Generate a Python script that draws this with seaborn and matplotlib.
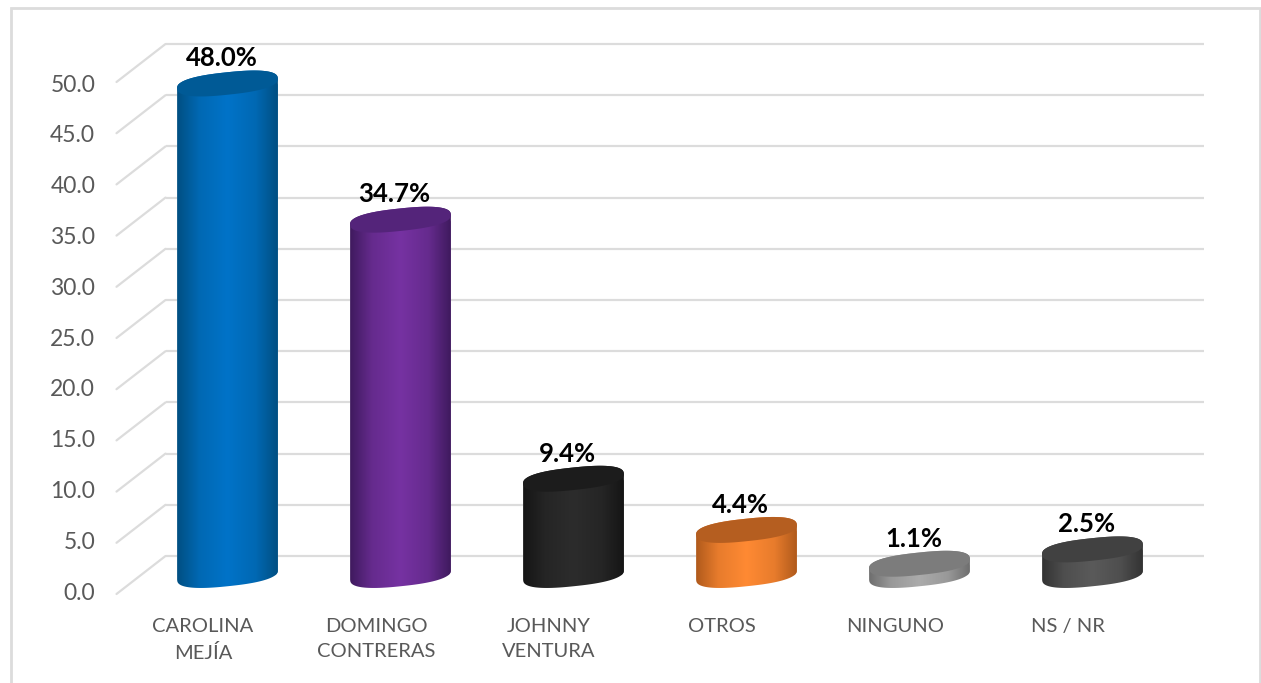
import matplotlib
matplotlib.use("Agg")
import matplotlib.pyplot as plt
import numpy as np
import seaborn as sns
from matplotlib.colors import LinearSegmentedColormap, to_rgb
from matplotlib.patches import Polygon, Rectangle
from matplotlib.path import Path
from matplotlib.transforms import Affine2D, IdentityTransform

categories = ["CAROLINA\nMEJÍA", "DOMINGO\nCONTRERAS", "JOHNNY\nVENTURA", "OTROS", "NINGUNO", "NS / NR"]
values = [48.0, 34.7, 9.4, 4.4, 1.1, 2.5]
value_labels = ["48.0%", "34.7%", "9.4%", "4.4%", "1.1%", "2.5%"]
y_ticks = [0, 5, 10, 15, 20, 25, 30, 35, 40, 45, 50]

# cylinder colours: centre of body, edge of body, top cap
body_colors = ["#0073C8", "#7632A2", "#2C2C2C", "#FF8A33", "#ABABAB", "#5A5A5A"]
edge_colors = ["#004F82", "#3F1A5E", "#151515", "#B05A1C", "#6E6E6E", "#333333"]
cap_colors = ["#005A96", "#54247A", "#1C1C1C", "#B55E20", "#7C7C7C", "#414141"]

GRID = "#DCDCDC"
W, H = 1261, 683
A, B, TILT = 50.6, 11.2, np.deg2rad(6)
ROUND = 2.5  # slightly squarer than a true ellipse, like the office 3D cylinder


def set_style():
    sns.set_theme(style="white")
    plt.rcParams["font.family"] = ["Lato", "DejaVu Sans"]


def ellipse_points(cx, cy, t):
    # tilted rounded ellipse in display pixels, rising towards the right
    c = np.sign(np.cos(t)) * np.abs(np.cos(t)) ** (2 / ROUND)
    s = np.sign(np.sin(t)) * np.abs(np.sin(t)) ** (2 / ROUND)
    x = cx + A * c * np.cos(TILT) - B * s * np.sin(TILT)
    y = cy + A * c * np.sin(TILT) + B * s * np.cos(TILT)
    return np.column_stack([x, y])


def silhouette(cx, y_low, y_high):
    # outline of the cylinder: upper half of the top cap, lower half of the base
    t = np.linspace(0, 2 * np.pi, 720, endpoint=False)
    probe = ellipse_points(0, 0, t)
    t0 = t[np.argmax(probe[:, 0])]
    top = ellipse_points(cx, y_high, np.linspace(t0, t0 + np.pi, 120))
    low = ellipse_points(cx, y_low, np.linspace(t0 + np.pi, t0 + 2 * np.pi, 120))
    return np.vstack([top, low])


def draw_cylinders(fig, ax):
    bars = sorted(ax.patches, key=lambda p: p.get_x())
    for i, bar in enumerate(bars):
        left, right = bar.get_x(), bar.get_x() + bar.get_width()
        mid = (left + right) / 2
        cx, y_high = ax.transData.transform((mid, bar.get_height()))
        _, y_low = ax.transData.transform((mid, 0))
        outline = Path(silhouette(cx, y_low, y_high), closed=True)
        bar.set_clip_box(None)
        bar.set_clip_path(outline, IdentityTransform())
        bar.set_zorder(2)

        edge, body = np.array(to_rgb(edge_colors[i])), np.array(to_rgb(body_colors[i]))
        cmap = LinearSegmentedColormap.from_list(
            f"cyl{i}",
            [(0, edge), (0.22, edge * 0.3 + body * 0.7), (0.5, body),
             (0.78, edge * 0.3 + body * 0.7), (1, edge)],
        )
        img = ax.imshow(
            np.linspace(0, 1, 256).reshape(1, -1), cmap=cmap, aspect="auto",
            extent=(left, right, -3, bar.get_height() + 3), zorder=3,
        )
        # images fall back to the axes box unless given their own clip box
        img.set_clip_box(fig.bbox)
        img.set_clip_path(outline, IdentityTransform())

        t = np.linspace(0, 2 * np.pi, 240)
        ax.add_patch(Polygon(
            ellipse_points(cx, y_high, t), closed=True, facecolor=cap_colors[i],
            edgecolor="none", transform=IdentityTransform(), zorder=4, clip_on=False,
        ))


def draw_walls(ax):
    back = ax.transData + Affine2D().translate(24.5, 19)
    front = ax.transData + Affine2D().translate(-24.5, -19)
    ax.hlines(y_ticks, -0.5, 5.5, color=GRID, lw=1.6, transform=back, zorder=1, clip_on=False)
    for v in y_ticks:
        p0 = front.transform((-0.5, v))
        p1 = back.transform((-0.5, v))
        ax.plot([p0[0], p1[0]], [p0[1], p1[1]], color=GRID, lw=1.6, clip_on=False,
                transform=IdentityTransform(), zorder=1, solid_capstyle="round")


def build_figure():
    fig = plt.figure(figsize=(W / 100, H / 100), dpi=100, facecolor="white")
    ax = fig.add_axes([141 / W, (H - 575) / H, 1038 / W, 512 / H])
    ax.patch.set_alpha(0)

    sns.barplot(x=categories, y=values, hue=categories, palette=body_colors,
                width=101 / 173, legend=False, ax=ax)
    ax.set_xlim(-0.5, 5.5)
    ax.set_ylim(0, 50)
    ax.set_yticks(y_ticks, [f"{v:.1f}" for v in y_ticks])
    sns.despine(ax=ax, left=True, bottom=True)
    ax.tick_params(axis="x", length=0, labelsize=14.5, labelcolor="#595959", pad=31)
    ax.tick_params(axis="y", length=0, labelsize=16.5, labelcolor="#595959", pad=33)

    draw_walls(ax)
    draw_cylinders(fig, ax)

    for label in ax.get_xticklabels():
        label.set_linespacing(1.6)
        label.set_transform(label.get_transform() + Affine2D().translate(-24.5, 0))
    for label, v in zip(ax.get_yticklabels(), y_ticks):
        label.set_transform(label.get_transform() + Affine2D().translate(0, -(16 + 0.08 * v)))

    for container, text in zip(ax.containers, value_labels):
        for ann in ax.bar_label(container, labels=[text], padding=9.5, fontsize=18.5,
                                fontweight="bold", color="black", zorder=5):
            ann.xyann = (-4.3, ann.xyann[1])

    ax.set_xlim(-0.5, 5.5)
    ax.set_ylim(0, 50)

    fig.add_artist(Rectangle((10.5 / W, -0.1), 1249 / W, 1.1 - 8.5 / H, transform=fig.transFigure,
                             facecolor="none", edgecolor=GRID, lw=2))
    return fig


def main():
    set_style()
    fig = build_figure()
    fig.savefig("out.png", dpi=100, facecolor="white")


if __name__ == "__main__":
    main()
